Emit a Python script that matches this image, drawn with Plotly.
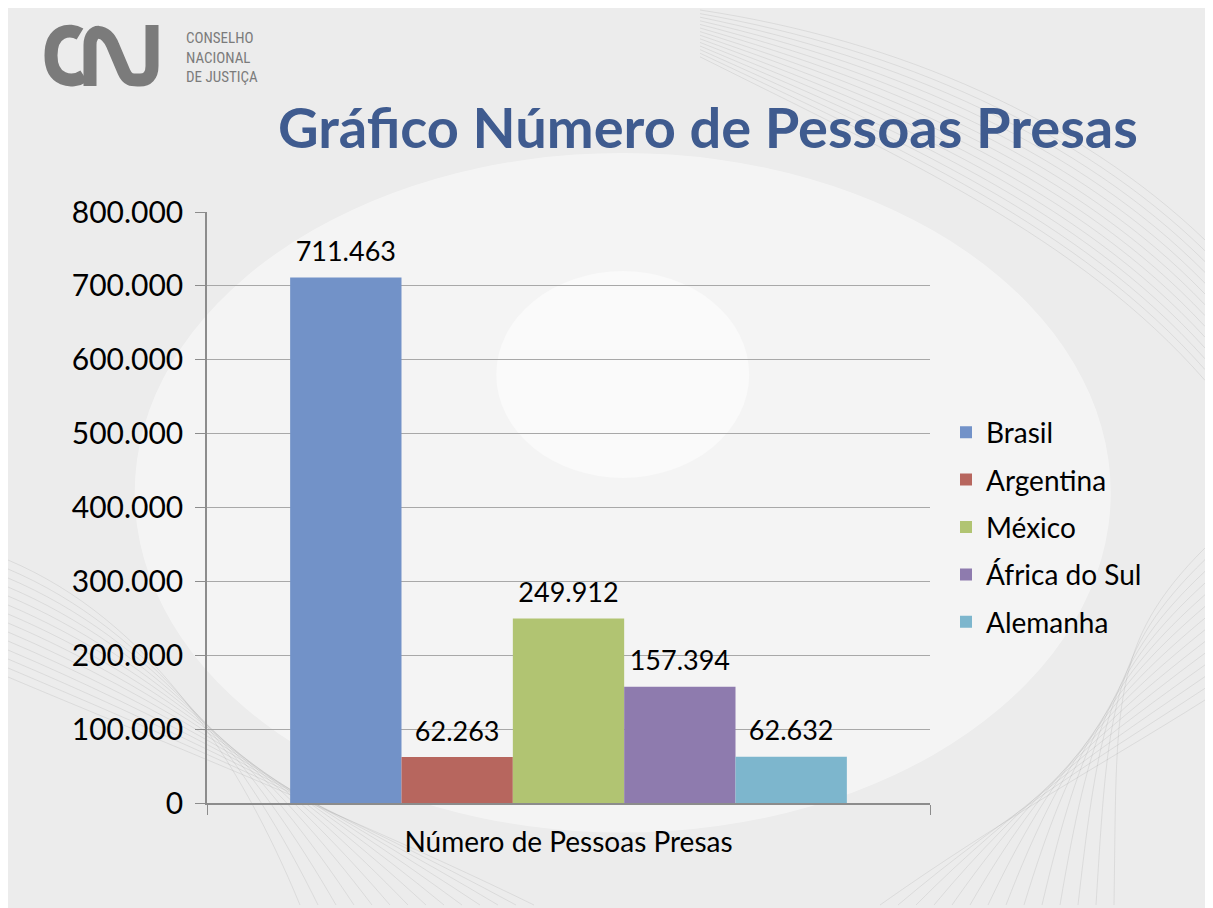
import plotly.graph_objects as go

category = ["Número de Pessoas Presas"]
countries = ["Brasil", "Argentina", "México", "África do Sul", "Alemanha"]
values = [711463, 62263, 249912, 157394, 62632]
colors = ["#7292c8", "#b7665e", "#b1c472", "#8e7bae", "#7db6cd"]
y_ticks = [0, 100000, 200000, 300000, 400000, 500000, 600000, 700000, 800000]

FONT = "Lato"
W, H = 1213, 908
ML, MR, MT, MB = 199, 291, 204, 113
OFF = 8  # page offset of the figure
PW, PH = W - ML - MR, H - MT - MB


def px(x):
    return (x - OFF - ML) / PW


def py(y):
    return (H - MB - (y - OFF)) / PH


def path(cmds):
    out = []
    for c in cmds:
        if isinstance(c, str):
            out.append(c)
        else:
            out.append(f"{px(c[0]):.5f},{py(c[1]):.5f}")
    return " ".join(out)


fig = go.Figure()
for name, val, col in zip(countries, values, colors):
    fig.add_trace(go.Bar(
        x=category, y=[val], name=name,
        marker=dict(color=col, line=dict(width=0)),
        offsetgroup=name, legendgroup=name,
    ))
for name, val in zip(countries, values):
    fig.add_trace(go.Scatter(
        x=category, y=[val], mode="markers+text", name=name,
        marker=dict(size=14, opacity=0),
        texttemplate="%{y:,d}", textposition="top center",
        textfont=dict(family=FONT, size=27, color="#000000"),
        offsetgroup=name, showlegend=False, cliponaxis=False, hoverinfo="skip",
    ))

logo_col = "#7b7b7b"
shapes = [
    dict(type="circle", xref="paper", yref="paper", layer="below",
         x0=-0.1, x1=1.25, y0=-0.05, y1=1.1, fillcolor="rgba(255,255,255,0.45)", line=dict(width=0)),
    dict(type="circle", xref="paper", yref="paper", layer="below",
         x0=0.4, x1=0.75, y0=0.55, y1=0.9, fillcolor="rgba(255,255,255,0.5)", line=dict(width=0)),
    # CNJ logo: C
    dict(type="path", xref="paper", yref="paper",
         path=path(["M", (80, 34), "C", (70, 28), (51, 30), (51, 55.5),
                    "C", (51, 81), (72, 84), (84, 76)]),
         line=dict(color=logo_col, width=13), fillcolor="rgba(0,0,0,0)"),
    # N + J
    dict(type="path", xref="paper", yref="paper",
         path=path(["M", (90, 86), "L", (90, 45), "C", (90, 28), (106, 28), (113, 46),
                    "L", (124, 72), "C", (128, 81), (133, 80), (140, 80),
                    "C", (147, 80), (152, 76), (152, 66), "L", (152, 25)]),
         line=dict(color=logo_col, width=13), fillcolor="rgba(0,0,0,0)"),
]

# faint decorative swirl lines in the slide background
swirl = dict(color="rgba(150,150,150,0.2)", width=1)
for k in range(14):
    d = k * 9
    shapes.append(dict(type="path", xref="paper", yref="paper", layer="below",
                       path=path(["M", (8, 560 + d), "C", (150, 620 + d), (240 + d, 760 + d * 0.5), (300 + d * 2, 905)]),
                       line=swirl, fillcolor="rgba(0,0,0,0)"))
    shapes.append(dict(type="path", xref="paper", yref="paper", layer="below",
                       path=path(["M", (700, 10 + d * 0.4), "C", (900, 40 + d), (1080, 120 + d), (1205, 240 + d * 1.2)]),
                       line=swirl, fillcolor="rgba(0,0,0,0)"))
    shapes.append(dict(type="path", xref="paper", yref="paper", layer="below",
                       path=path(["M", (880 + d * 2, 905), "C", (1000 + d, 820 - d), (1110, 760 - d), (1205, 700 - d * 1.3)]),
                       line=swirl, fillcolor="rgba(0,0,0,0)"))

fig.update_layout(
    width=W, height=H,
    margin=dict(l=ML, r=MR, t=MT, b=MB),
    paper_bgcolor="#ececec", plot_bgcolor="rgba(0,0,0,0)",
    separators=",.",
    barmode="group", bargap=0.23, bargroupgap=0,
    scattermode="group", scattergap=0.23,
    font=dict(family=FONT, size=24, color="#000000"),
    showlegend=True,
    legend=dict(x=px(946), y=py(527), xanchor="left", yanchor="middle",
                font=dict(family=FONT, size=28, color="#000000"),
                tracegroupgap=8, bgcolor="rgba(0,0,0,0)", itemwidth=30),
    shapes=shapes,
    xaxis=dict(showline=True, linecolor="#8c8c8c", linewidth=1.5,
               ticks="outside", tickson="boundaries", ticklen=10, tickcolor="#8c8c8c",
               tickfont=dict(family=FONT, size=28, color="#000000"), showgrid=False,
               ticklabelstandoff=14),
    yaxis=dict(range=[0, 800000], tickvals=y_ticks, tickformat=",d",
               showline=True, linecolor="#8c8c8c", linewidth=1.5,
               ticks="outside", ticklen=10, tickcolor="#8c8c8c",
               showgrid=True, gridcolor="#a8a8a8", gridwidth=1.2,
               zeroline=False,
               tickfont=dict(family=FONT, size=30, color="#000000"), ticklabelstandoff=6),
    annotations=[
        dict(text="<b>Gráfico Número de Pessoas Presas</b>", xref="paper", yref="paper",
             x=px(1140), y=py(126), xanchor="right", yanchor="middle", showarrow=False,
             font=dict(family=FONT, size=56, color="#3f5b8f")),
        dict(text="CONSELHO<br>NACIONAL<br>DE JUSTIÇA", xref="paper", yref="paper",
             x=px(184), y=py(57), xanchor="left", yanchor="middle", showarrow=False, align="left",
             font=dict(family="Liberation Sans Narrow, Roboto Condensed, Roboto", size=15, color="#7b7b7b")),
    ],
)

fig.write_html("out.html")
